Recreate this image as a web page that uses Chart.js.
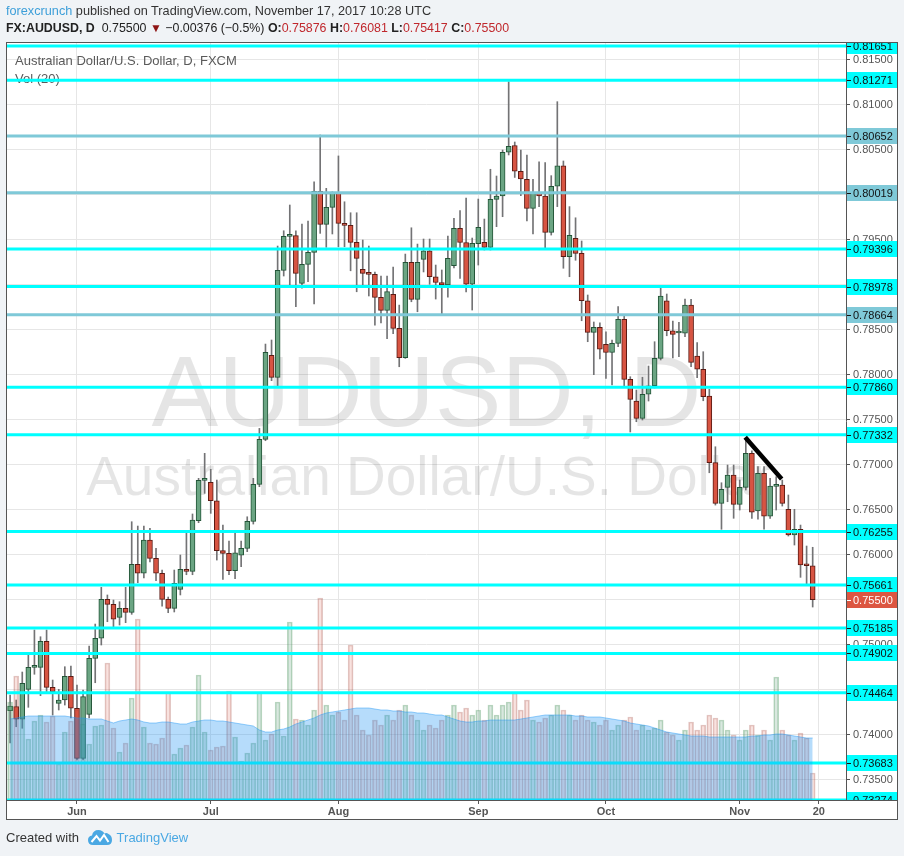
<!DOCTYPE html>
<html><head><meta charset="utf-8">
<script src="https://cdn.jsdelivr.net/npm/chart.js@4/dist/chart.umd.min.js"></script>
<style>
html,body{margin:0;padding:0;background:#f0f3f6;}
body{width:904px;height:856px;position:relative;overflow:hidden;font-family:"Liberation Sans",Arial,sans-serif;}
#c{position:absolute;left:0;top:0;}
.t{position:absolute;white-space:nowrap;line-height:15px;}
#h1{left:6px;top:4px;font-size:12.7px;color:#333;}
#h1 .u{color:#3d9fd9;}
#h2{left:6px;top:21px;font-size:12.4px;color:#222;}
#h2 b{font-weight:bold;}
#h2 .r{color:#c0282d;}
#h2 .tri{color:#8e1414;font-size:12px;}
#ft{left:6px;top:830px;font-size:13px;color:#333;}
#ft .tv{color:#4aa8e3;}
#logo{position:absolute;left:88px;top:829px;}
</style></head>
<body>
<canvas id="c" width="904" height="856"></canvas>
<div class="t" id="h1"><span class="u">forexcrunch</span> published on TradingView.com, November 17, 2017 10:28 UTC</div>
<div class="t" id="h2"><b>FX:AUDUSD, D</b>&nbsp; 0.75500 <span class="tri">▼</span> −0.00376 (−0.5%) <b>O:</b><span class="r">0.75876</span> <b>H:</b><span class="r">0.76081</span> <b>L:</b><span class="r">0.75417</span> <b>C:</b><span class="r">0.75500</span></div>
<div class="t" id="ft">Created with <span style="display:inline-block;width:34px"></span><span class="tv">TradingView</span></div>
<svg id="logo" width="24" height="17" viewBox="0 0 24 17"><path d="M5 16 Q0 16 0 11 Q0 7 4 6.5 Q5 1 10.5 1 Q14.5 1 16.5 4.5 Q18.5 3.5 20.5 5 Q24 6.5 24 11 Q24 16 19 16 Z" fill="#4aa8e3"/><path d="M3.5 13 L8.5 7 L12 11.5 L16 6 L20.5 13" stroke="#fff" stroke-width="2" fill="none"/></svg>
<script>
// ---- data (daily bars, 17 May 2017 .. 17 Nov 2017, index 0..132) ----
const open = [0.74265,0.74310,0.74170,0.74503,0.74747,0.74747,0.75036,0.74525,0.74347,0.74384,0.74647,0.74292,0.73736,0.74225,0.74847,0.75070,0.75503,0.75447,0.75303,0.75403,0.75358,0.75892,0.75792,0.76162,0.75958,0.75792,0.75503,0.75403,0.75614,0.75836,0.75814,0.76376,0.76825,0.76803,0.76598,0.76043,0.76014,0.75820,0.75993,0.76069,0.76369,0.76780,0.77280,0.78214,0.77969,0.79158,0.79536,0.79543,0.79014,0.79225,0.79358,0.80036,0.79669,0.79858,0.80013,0.79680,0.79658,0.79469,0.79169,0.79125,0.79114,0.78858,0.78714,0.78891,0.78514,0.78189,0.79247,0.78836,0.79280,0.79375,0.79087,0.79023,0.78995,0.79209,0.79625,0.79467,0.79003,0.79454,0.79469,0.79414,0.79947,0.79984,0.80470,0.80545,0.80259,0.80170,0.79847,0.80014,0.79984,0.79580,0.80092,0.80318,0.79310,0.79514,0.79347,0.78820,0.78469,0.78525,0.78336,0.78245,0.78347,0.78614,0.77947,0.77706,0.77514,0.77781,0.77876,0.78180,0.78820,0.78487,0.78462,0.78459,0.78772,0.78206,0.78059,0.77762,0.77021,0.76569,0.76747,0.76884,0.76558,0.76747,0.77125,0.76484,0.76903,0.76428,0.76758,0.76773,0.76503,0.76217,0.76281,0.75884,0.75876];
const high = [0.74440,0.74384,0.74695,0.74884,0.75162,0.75087,0.75162,0.74606,0.74503,0.74754,0.74762,0.74551,0.74495,0.74984,0.75228,0.75636,0.75551,0.75495,0.75476,0.75636,0.76365,0.76317,0.76317,0.76292,0.76069,0.75828,0.75528,0.75828,0.75995,0.76243,0.76451,0.76847,0.77125,0.76947,0.76828,0.76328,0.76150,0.76243,0.76150,0.76420,0.76847,0.77402,0.78339,0.78384,0.79428,0.79598,0.79884,0.79598,0.79673,0.79706,0.80142,0.80662,0.80069,0.80031,0.80429,0.79920,0.79798,0.79798,0.79495,0.79428,0.79140,0.79095,0.79095,0.79195,0.78772,0.79339,0.79631,0.79450,0.79506,0.79506,0.79217,0.79162,0.79539,0.79736,0.79822,0.79961,0.79517,0.79950,0.79728,0.80281,0.80206,0.80495,0.81254,0.80584,0.80495,0.80440,0.80170,0.80365,0.80354,0.80210,0.81032,0.80373,0.79866,0.79742,0.79484,0.78884,0.78584,0.78576,0.78476,0.78384,0.78754,0.78661,0.77976,0.77828,0.77970,0.78095,0.78365,0.78958,0.78895,0.78595,0.78581,0.78839,0.78836,0.78354,0.78254,0.77836,0.77198,0.76798,0.76995,0.76995,0.76828,0.77281,0.77154,0.76977,0.76977,0.76847,0.76865,0.76828,0.76662,0.76503,0.76328,0.76095,0.76081];
const low = [0.73906,0.74087,0.74070,0.74303,0.74670,0.74432,0.74473,0.74217,0.74273,0.74328,0.74184,0.73717,0.73717,0.74184,0.74576,0.74995,0.75254,0.75199,0.75217,0.75243,0.75336,0.75687,0.75740,0.75917,0.75709,0.75428,0.75354,0.75362,0.75551,0.75776,0.75776,0.76354,0.76680,0.76458,0.75939,0.75725,0.75776,0.75732,0.75865,0.76032,0.76339,0.76754,0.77265,0.77932,0.77873,0.79095,0.78995,0.78754,0.78961,0.79031,0.78784,0.79569,0.79414,0.79562,0.79420,0.79420,0.79153,0.78920,0.78995,0.78873,0.78550,0.78573,0.78400,0.78454,0.78087,0.78180,0.78809,0.78698,0.79140,0.79003,0.78839,0.78673,0.78861,0.79184,0.79067,0.78917,0.78717,0.79217,0.79384,0.79384,0.79643,0.79754,0.80440,0.80190,0.79988,0.79706,0.79562,0.79866,0.79403,0.79550,0.79866,0.79181,0.79087,0.79270,0.78598,0.78365,0.77999,0.78173,0.77956,0.77884,0.78309,0.77865,0.77362,0.77476,0.77495,0.77706,0.77851,0.78162,0.78431,0.78186,0.78199,0.78421,0.78087,0.77965,0.77709,0.76909,0.76550,0.76281,0.76587,0.76403,0.76495,0.76717,0.76403,0.76392,0.76281,0.76403,0.76495,0.76539,0.76206,0.76106,0.75747,0.75673,0.75417];
const close = [0.74317,0.74170,0.74570,0.74747,0.74750,0.75036,0.74525,0.74476,0.74384,0.74647,0.74292,0.73736,0.74421,0.74847,0.75070,0.75503,0.75447,0.75281,0.75403,0.75358,0.75892,0.75792,0.76162,0.75958,0.75792,0.75503,0.75403,0.75681,0.75836,0.75814,0.76384,0.76825,0.76828,0.76598,0.76043,0.76014,0.75820,0.76020,0.76069,0.76369,0.76780,0.77280,0.78247,0.77969,0.79158,0.79536,0.79543,0.79125,0.79225,0.79358,0.80036,0.79669,0.79858,0.80013,0.79680,0.79658,0.79469,0.79291,0.79125,0.79114,0.78858,0.78714,0.78922,0.78514,0.78189,0.79247,0.78836,0.79247,0.79375,0.79087,0.79023,0.78995,0.79291,0.79625,0.79467,0.79003,0.79458,0.79636,0.79414,0.79947,0.79984,0.80470,0.80536,0.80259,0.80173,0.79847,0.80014,0.79986,0.79580,0.80092,0.80318,0.79310,0.79547,0.79347,0.78820,0.78469,0.78525,0.78281,0.78245,0.78347,0.78614,0.77947,0.77725,0.77514,0.77781,0.77876,0.78180,0.78873,0.78487,0.78447,0.78467,0.78772,0.78135,0.78059,0.77754,0.77021,0.76569,0.76725,0.76884,0.76558,0.76747,0.77125,0.76470,0.76903,0.76428,0.76762,0.76764,0.76569,0.76217,0.76281,0.75884,0.75876,0.75500];
// volume (arbitrary units) and its 20-bar average as drawn
const volume = [98,124,83,61,79,85,78,84,36,68,79,90,76,56,74,75,137,72,48,57,102,181,73,57,56,62,108,46,52,55,73,125,68,50,53,54,109,63,39,47,57,108,60,66,98,64,178,81,80,75,90,202,95,85,88,80,155,85,70,65,80,75,85,80,90,95,85,80,70,75,72,80,85,95,88,92,85,90,80,95,85,95,98,107,90,100,80,78,82,85,95,90,85,80,85,80,78,75,80,70,75,80,83,70,75,70,72,80,68,65,60,70,78,70,75,85,82,80,70,65,60,70,75,65,70,60,123,70,65,60,67,62,27];
const volMA = [81,82,83,84,84,84,84,84,84,84,83,82,82,81,81,81,79,77,79,80,81,80,78,77,77,78,78,77,76,76,78,79,80,80,79,79,78,77,76,75,74,70,68,68,70,71,73,76,78,80,82,85,87,88,89,90,91,92,92,92,91,90,90,89,89,88,88,87,87,86,85,85,83,81,79,78,78,79,79,80,80,80,80,80,81,82,83,84,85,85,85,85,85,84,84,83,83,83,82,81,80,79,77,76,75,74,72,70,68,67,66,65,64,64,64,63,63,63,63,63,63,63,64,64,65,65,66,66,65,64,63,62,62];
// horizontal levels drawn on the chart
const levels = [0.81651,0.81271,0.80652,0.80019,0.79396,0.78978,0.78664,0.77860,0.77332,0.76255,0.75661,0.75185,0.74902,0.74464,0.73683,0.73274];
const mutedLevels = [0.80652,0.80019,0.78664];
// trend line drawing (bar index, price)
const trendX = [120.9,126.9];
const trendY = [0.77303,0.76840];
// time axis ticks (bar index of first bar of month) and labels
const tickIdx = [11,33,54,77,98,120,133];
const tickLabels = ['Jun','Jul','Aug','Sep','Oct','Nov','20'];

const N = open.length;
const idx = open.map((_, i) => i);
const up = idx.map(i => close[i] >= open[i]);
const X_MIN = -0.51, X_MAX = 137.48;
const Y_MIN = 0.73273, Y_MAX = 0.81684;

const datasets = [];
datasets.push({type:'line', label:'trend', data: trendX.map((x,k)=>({x, y: trendY[k]})), borderColor:'#000', borderWidth:4.5, pointRadius:0, borderCapStyle:'butt', order:0, yAxisID:'y'});
datasets.push({type:'line', label:'volma', data: idx.map(i=>({x:i, y: volMA[i]})), yAxisID:'yv', borderColor:'rgba(33,150,243,0.45)', borderWidth:1, backgroundColor:'rgba(33,150,243,0.33)', fill:'origin', pointRadius:0, order:1});
levels.forEach(lv => datasets.push({type:'line', label:'lv', data:[{x:X_MIN,y:lv},{x:X_MAX,y:lv}], yAxisID:'y', borderColor: mutedLevels.includes(lv)?'#7fc9d8':'#00ffff', borderWidth:3, pointRadius:0, order:2}));
datasets.push({type:'bar', label:'vol', data: idx.map(i=>({x:i, y: volume[i]})), yAxisID:'yv', grouped:false, barThickness:5,
  backgroundColor: idx.map(i=>up[i]?'rgba(107,165,131,0.26)':'rgba(215,84,66,0.17)'),
  borderColor: idx.map(i=>up[i]?'rgba(60,140,80,0.35)':'rgba(160,70,60,0.3)'), borderWidth:1, borderSkipped:false, order:3});
datasets.push({type:'bar', label:'body', data: idx.map(i=>({x:i, y:[open[i], close[i]]})), yAxisID:'y', grouped:false, barThickness:5, minBarLength:2,
  backgroundColor: idx.map(i=>up[i]?'#6ba583':'#d75442'), borderColor: idx.map(i=>up[i]?'#225437':'#5b1a13'), borderWidth:1, borderSkipped:false, order:4});
datasets.push({type:'bar', label:'wick', data: idx.map(i=>({x:i, y:[low[i], high[i]]})), yAxisID:'y', grouped:false, barThickness:1, backgroundColor:'#737375', borderWidth:0, order:5});

const FONT = '"Liberation Sans", Arial, sans-serif';
const deco = {
  id:'deco',
  beforeDraw(chart){
    const ctx = chart.ctx; ctx.save();
    ctx.fillStyle = '#ffffff'; ctx.fillRect(6, 43, 892, 777);
    ctx.restore();
  },
  beforeDatasetsDraw(chart){
    const {ctx, chartArea:a} = chart; ctx.save();
    ctx.beginPath(); ctx.rect(a.left, a.top, a.right-a.left, a.bottom-a.top); ctx.clip();
    const cx = (a.left + a.right)/2;
    ctx.fillStyle = 'rgba(0,0,0,0.10)'; ctx.textAlign='center'; ctx.textBaseline='alphabetic';
    ctx.font = '100px ' + FONT; ctx.fillText('AUDUSD, D', cx, 426);
    ctx.font = '55px ' + FONT; ctx.fillText('Australian Dollar/U.S. Dollar', cx + 2, 495);
    ctx.textAlign='left'; ctx.fillStyle = '#5a5a5a';
    ctx.font = '13px ' + FONT;
    ctx.fillText('Australian Dollar/U.S. Dollar, D, FXCM', 15, 65);
    ctx.fillText('Vol (20)', 15, 83);
    ctx.restore();
  },
  afterDraw(chart){
    const {ctx, scales:{y}} = chart; ctx.save();
    ctx.beginPath(); ctx.rect(846, 43, 52, 757); ctx.clip();
    ctx.font = '11px ' + FONT; ctx.textBaseline='middle'; ctx.textAlign='left';
    const items = levels.map(v=>({v, bg: mutedLevels.includes(v)?'#7fc9d8':'#00ffff', fg:'#111'}));
    items.push({v: close[N-1], bg:'#dc5641', fg:'#fff'});
    items.forEach(it=>{
      const py = Math.round(y.getPixelForValue(it.v));
      ctx.fillStyle = it.bg; ctx.fillRect(847, py-8, 50, 16);
      ctx.fillStyle = it.fg; ctx.fillRect(847, py, 4, 1);
      ctx.fillText(it.v.toFixed(5), 853, py+1);
    });
    ctx.restore();
    ctx.save();
    ctx.strokeStyle = '#555'; ctx.lineWidth = 1;
    ctx.strokeRect(6.5, 42.5, 891, 777);
    ctx.beginPath(); ctx.moveTo(846.5, 43); ctx.lineTo(846.5, 800); ctx.moveTo(6, 800.5); ctx.lineTo(898, 800.5); ctx.stroke();
    ctx.restore();
  }
};

new Chart(document.getElementById('c'), {
  type:'bar',
  data:{datasets},
  options:{
    responsive:false, animation:false, devicePixelRatio:1,
    layout:{padding:{left:7, top:43, right:7, bottom:36}},
    plugins:{legend:{display:false}, tooltip:{enabled:false}},
    scales:{
      x:{type:'linear', min:X_MIN, max:X_MAX, offset:false,
        afterBuildTicks:s=>{ s.ticks = tickIdx.map(v=>({value:v})); },
        afterFit:s=>{ s.height = 20; },
        ticks:{callback:v=>tickLabels[tickIdx.indexOf(v)], font:{family:FONT, size:11, weight:'bold'}, color:'#555', padding:1, maxRotation:0, autoSkip:false},
        grid:{color:'#e6e6e6', tickLength:4, tickColor:'#555', offset:false},
        border:{display:false}},
      y:{type:'linear', position:'right', min:Y_MIN, max:Y_MAX,
        afterFit:s=>{ s.width = 51; },
        ticks:{stepSize:0.005, includeBounds:false, callback:v=>v.toFixed(5), font:{family:FONT, size:11}, color:'#555', padding:3},
        grid:{color:'#e6e6e6', tickLength:4, tickColor:'#555'},
        border:{display:false}},
      yv:{type:'linear', display:false, min:0, max:757}
    }
  },
  plugins:[deco]
});
</script>
</body></html>
